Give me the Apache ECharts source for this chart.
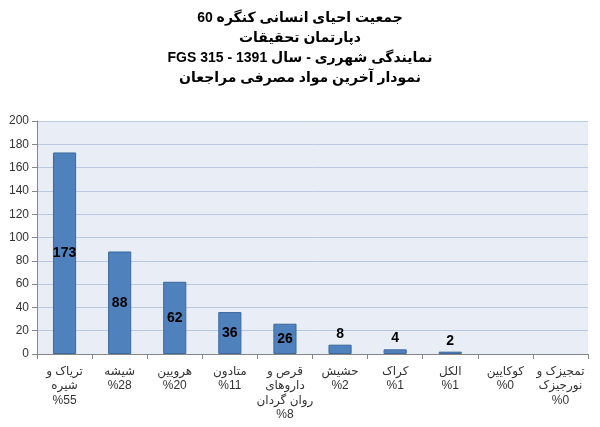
<!DOCTYPE html>
<html>
<head>
<meta charset="utf-8">
<script src="https://cdn.jsdelivr.net/npm/echarts@6/dist/echarts.min.js"></script>
<style>
  html, body { margin: 0; padding: 0; background: #ffffff; }
  #chart { width: 600px; height: 427px; direction: rtl; }
</style>
</head>
<body>
<div id="chart"></div>
<script>
// Substances used by clients (counts per category)
const categories = [
  'تریاک و\nشیره\n%55',
  'شیشه\n%28',
  'هرویین\n%20',
  'متادون\n%11',
  'قرص و\nداروهای\nروان گردان\n%8',
  'حشیش\n%2',
  'کراک\n%1',
  'الکل\n%1',
  'کوکایین\n%0',
  'تمجیزک و\nنورجیزک\n%0'
];
const counts = [173, 88, 62, 36, 26, 8, 4, 2, 0, 0];
const yTicks = [0, 20, 40, 60, 80, 100, 120, 140, 160, 180, 200];

const titleLines = [
  'جمعیت احیای انسانی کنگره 60',
  'دپارتمان تحقیقات',
  'نمایندگی شهرری - سال 1391 - FGS 315',
  'نمودار آخرین مواد مصرفی مراجعان'
];

const fontFamily = 'Arial, "Liberation Sans", "DejaVu Sans", sans-serif';

const chart = echarts.init(document.getElementById('chart'), null, { renderer: 'canvas' });

// Short bars get their label above the bar, taller ones in the middle;
// empty categories draw nothing at all
const barData = counts.map(v => ({
  value: v,
  itemStyle: v === 0 ? { borderWidth: 0, opacity: 0 } : undefined,
  label: v === 0 ? { show: false } : { position: v >= 20 ? 'inside' : 'top' }
}));

chart.setOption({
  animation: false,
  backgroundColor: '#ffffff',
  title: {
    text: titleLines.join('\n'),
    left: 'center',
    top: 3,
    textStyle: {
      fontFamily: fontFamily,
      fontSize: 14,
      fontWeight: 'bold',
      color: '#000000',
      lineHeight: 20
    }
  },
  grid: {
    left: 37,
    right: 12,
    top: 121,
    bottom: 73,
    show: true,
    backgroundColor: '#e9edf5',
    borderWidth: 0
  },
  xAxis: {
    type: 'category',
    data: categories,
    axisLine: { lineStyle: { color: '#868686', width: 1 } },
    axisTick: { show: true, alignWithLabel: false, length: 5, lineStyle: { color: '#868686' } },
    axisLabel: {
      interval: 0,
      margin: 10,
      fontFamily: fontFamily,
      fontSize: 12,
      lineHeight: 14.5,
      color: '#333333'
    }
  },
  yAxis: {
    type: 'value',
    min: yTicks[0],
    max: yTicks[yTicks.length - 1],
    interval: 20,
    axisLine: { show: true, lineStyle: { color: '#868686', width: 1 } },
    axisTick: { show: true, length: 5, lineStyle: { color: '#868686' } },
    axisLabel: {
      margin: 8,
      fontFamily: fontFamily,
      fontSize: 12,
      color: '#333333'
    },
    splitLine: { show: true, lineStyle: { color: '#b9c9e1', width: 1 } }
  },
  series: [{
    type: 'bar',
    data: barData,
    barWidth: '42%',
    itemStyle: {
      color: '#4f81bd',
      borderColor: '#3c6a9e',
      borderWidth: 1
    },
    label: {
      show: true,
      fontFamily: fontFamily,
      fontSize: 14,
      fontWeight: 'bold',
      color: '#000000',
      distance: 4
    }
  }]
});
</script>
</body>
</html>
